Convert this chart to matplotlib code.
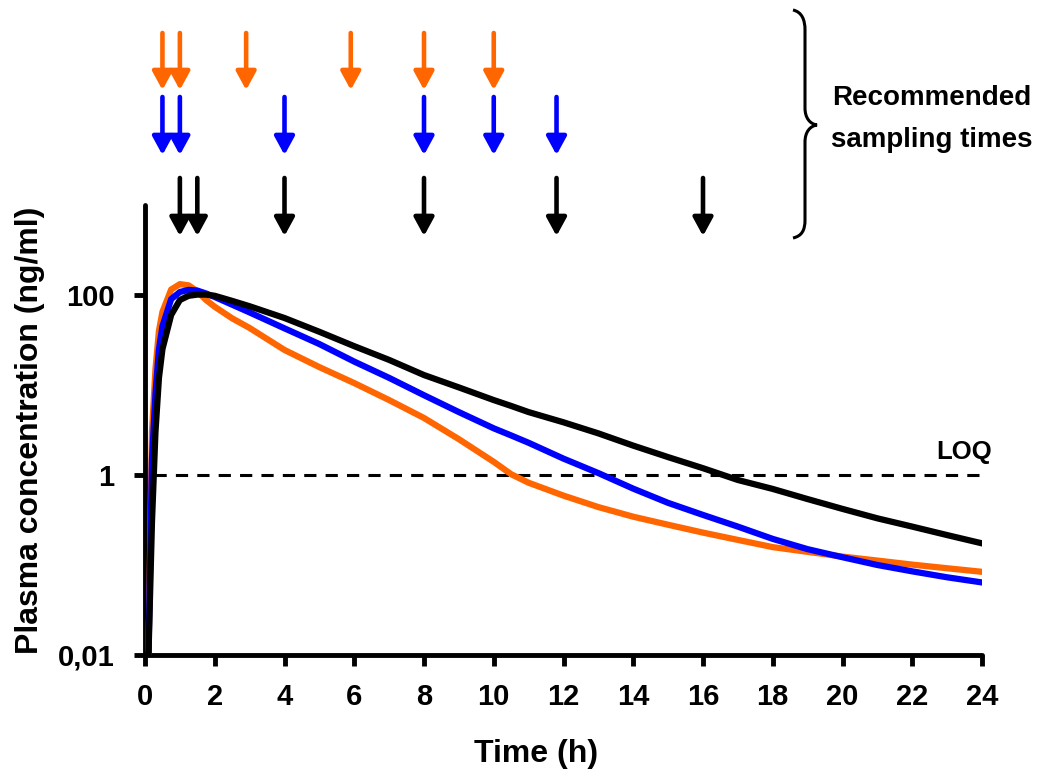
import matplotlib
matplotlib.use("Agg")
import matplotlib.pyplot as plt
from matplotlib.path import Path
from matplotlib.patches import PathPatch
import matplotlib.transforms as mtransforms

# ---- data ----
time_h = [0, 0.1, 0.2, 0.3, 0.4, 0.5, 0.75, 1.0, 1.25, 1.5, 1.75, 2.0, 2.5, 3,
          4, 5, 6, 7, 8, 9, 10, 10.5, 11, 12, 13, 14, 15, 16, 17, 18, 19, 20, 21, 22, 23, 24]
conc_orange = [0.01, 0.01, 3, 15, 40, 65, 115, 132, 128, 110, 88, 74, 55, 43,
               24.5, 15.8, 10.5, 6.8, 4.3, 2.5, 1.4, 1.02, 0.82, 0.59, 0.44, 0.344, 0.28,
               0.229, 0.19, 0.158, 0.14, 0.124, 0.112, 0.101, 0.092, 0.084]
conc_blue = [0.01, 0.01, 1.5, 8, 25, 45, 90, 108, 114, 112, 104, 95, 78, 64,
             42.6, 28.5, 18.2, 12, 7.7, 5.0, 3.3, 2.75, 2.28, 1.52, 1.05, 0.705, 0.49,
             0.36, 0.267, 0.195, 0.15, 0.122, 0.10, 0.085, 0.073, 0.064]
conc_black = [0.01, 0.01, 0.3, 3, 12, 25, 60, 88, 98, 101, 101, 98, 86, 75,
              55.5, 39, 27, 19, 12.9, 9.4, 6.8, 5.85, 5.0, 3.85, 2.9, 2.12, 1.58,
              1.19, 0.88, 0.70, 0.54, 0.42, 0.33, 0.267, 0.215, 0.174]
loq = 1

samples_orange = [0.5, 1, 2.9, 5.9, 8, 10]
samples_blue = [0.5, 1, 4, 8, 10, 11.8]
samples_black = [1, 1.5, 4, 8, 11.8, 16]

x_ticks = list(range(0, 25, 2))
y_ticks = [0.01, 1, 100]
y_ticklabels = ["0,01", "1", "100"]

ORANGE = "#FF6600"
BLUE = "#0000FF"
BLACK = "#000000"

W, H = 1039, 771
fig = plt.figure(figsize=(W / 100, H / 100), dpi=100)
plt.rcParams['font.family'] = ['Liberation Sans', 'DejaVu Sans']

ax = fig.add_axes([145 / W, 1 - 655 / H, (982 - 145) / W, (655 - 205) / H])
ax.set_yscale('log')
ax.set_xlim(0, 24)
ax.set_ylim(0.01, 1000)

ax.plot(time_h, conc_orange, color=ORANGE, lw=4.5, solid_joinstyle='round', zorder=3)
ax.plot(time_h, conc_blue, color=BLUE, lw=4.5, solid_joinstyle='round', zorder=4)
ax.plot(time_h, conc_black, color=BLACK, lw=4.5, solid_joinstyle='round', zorder=5)

ax.plot([0.25, 24], [loq, loq], color='black', lw=2.2, dashes=(4, 3), zorder=2)
ax.text(24.3, loq * 1.33, "LOQ", ha='right', va='bottom', fontsize=18.5, fontweight='bold')

for s in ['top', 'right']:
    ax.spines[s].set_visible(False)
for s in ['left', 'bottom']:
    ax.spines[s].set_linewidth(3.5)
    ax.spines[s].set_capstyle('round')

ax.set_xticks(x_ticks)
ax.set_xticklabels([str(v) for v in x_ticks])
ax.set_yticks(y_ticks)
ax.set_yticklabels(y_ticklabels)
ax.minorticks_off()
ax.tick_params(axis='both', direction='out', length=8, width=3.5, labelsize=21)
ax.tick_params(axis='y', pad=14)
ax.tick_params(axis='x', pad=12)
for lab in ax.get_xticklabels() + ax.get_yticklabels():
    lab.set_fontweight('bold')

ax.set_xlabel("Time (h)", fontsize=23, fontweight='bold')
ax.set_ylabel("Plasma concentration (ng/ml)", fontsize=23, fontweight='bold')
ax.xaxis.set_label_coords(0.467, -0.186)
ax.yaxis.set_label_coords(-0.12, 0.5)

# ---- sampling arrows ----
trans = mtransforms.blended_transform_factory(ax.transData, fig.transFigure)

def arrows(times, color, y_top, y_bot):
    for t in times:
        ax.annotate('', xy=(t, 1 - y_bot / H), xytext=(t, 1 - y_top / H),
                    xycoords=trans, textcoords=trans, annotation_clip=False,
                    arrowprops=dict(arrowstyle='-|>,head_length=0.55,head_width=0.3',
                                    mutation_scale=20, lw=3.3, color=color,
                                    shrinkA=0, shrinkB=0))

arrows(samples_orange, ORANGE, 33, 90)
arrows(samples_blue, BLUE, 97, 155)
arrows(samples_black, BLACK, 178, 236)

# ---- brace ----
pts_px = [(793, 10), (802, 12), (805, 20), (805, 30),
          (805, 108),
          (805, 118), (810, 124), (817, 125),
          (810, 126), (805, 132), (805, 142),
          (805, 220),
          (805, 230), (802, 236), (793, 238)]
codes = [Path.MOVETO, Path.CURVE4, Path.CURVE4, Path.CURVE4,
         Path.LINETO,
         Path.CURVE4, Path.CURVE4, Path.CURVE4,
         Path.CURVE4, Path.CURVE4, Path.CURVE4,
         Path.LINETO,
         Path.CURVE4, Path.CURVE4, Path.CURVE4]
verts = [(x / W, 1 - y / H) for x, y in pts_px]
fig.patches.append(PathPatch(Path(verts, codes), transform=fig.transFigure,
                             fill=False, lw=2.2, edgecolor='black'))

fig.text(932 / W, 1 - 119 / H, "Recommended\nsampling times", ha='center', va='center',
         fontsize=20, fontweight='bold', linespacing=1.8)

fig.savefig("out.png", dpi=100)
